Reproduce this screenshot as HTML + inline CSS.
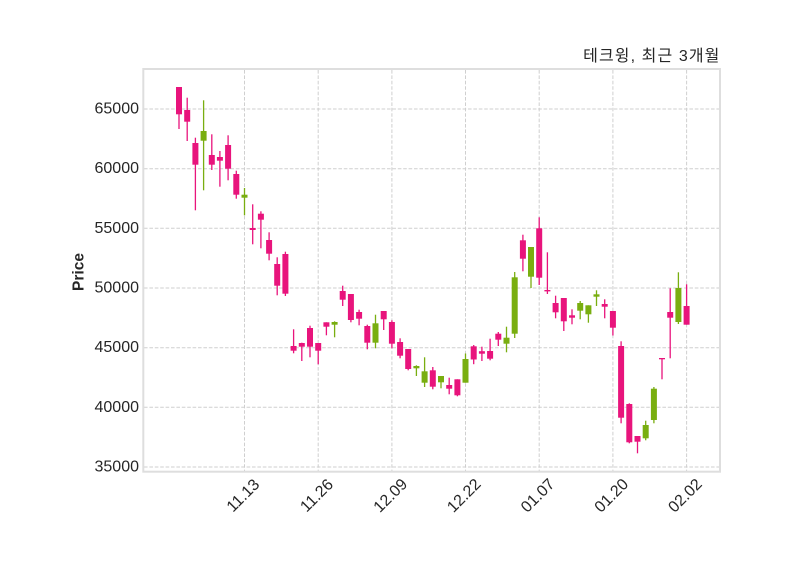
<!DOCTYPE html>
<html>
<head>
<meta charset="utf-8">
<style>
  html, body { margin: 0; padding: 0; background: #ffffff; }
  svg { display: block; }
  text { font-family: "Liberation Sans", "Noto Sans CJK KR", sans-serif; fill: #262626; }
</style>
</head>
<body>
<svg width="800" height="575" viewBox="0 0 800 575" xmlns="http://www.w3.org/2000/svg">
  <rect x="0" y="0" width="800" height="575" fill="#ffffff"/>

  <g stroke="#cfcfcf" stroke-width="1" stroke-dasharray="3.6 1.8" fill="none">
    <line x1="144" y1="109" x2="719" y2="109"/>
    <line x1="144" y1="168.7" x2="719" y2="168.7"/>
    <line x1="144" y1="228.3" x2="719" y2="228.3"/>
    <line x1="144" y1="288" x2="719" y2="288"/>
    <line x1="144" y1="347.7" x2="719" y2="347.7"/>
    <line x1="144" y1="407.3" x2="719" y2="407.3"/>
    <line x1="144" y1="467" x2="719" y2="467"/>
    <line x1="244.5" y1="70" x2="244.5" y2="471"/>
    <line x1="318.2" y1="70" x2="318.2" y2="471"/>
    <line x1="391.9" y1="70" x2="391.9" y2="471"/>
    <line x1="465.5" y1="70" x2="465.5" y2="471"/>
    <line x1="539.2" y1="70" x2="539.2" y2="471"/>
    <line x1="612.9" y1="70" x2="612.9" y2="471"/>
    <line x1="686.6" y1="70" x2="686.6" y2="471"/>
  </g>

  <rect x="143.3" y="69" width="576.7" height="402.7" fill="none" stroke="#dedede" stroke-width="2"/>

  <g stroke="#e8147c" stroke-width="1.3" fill="#e8147c">
    <line x1="179" y1="87" x2="179" y2="129"/><rect x="176" y="87" width="6" height="27.3" stroke="none"/>
    <line x1="187.2" y1="97.7" x2="187.2" y2="141"/><rect x="184.2" y="110" width="6" height="11.7" stroke="none"/>
    <line x1="195.4" y1="137.7" x2="195.4" y2="210.3"/><rect x="192.4" y="143" width="6" height="21.7" stroke="none"/>
    <line x1="211.8" y1="134.3" x2="211.8" y2="170"/><rect x="208.8" y="155" width="6" height="9.7" stroke="none"/>
    <line x1="219.9" y1="151" x2="219.9" y2="186.7"/><rect x="216.9" y="157" width="6" height="3.7" stroke="none"/>
    <line x1="228.1" y1="135.3" x2="228.1" y2="180.3"/><rect x="225.1" y="145" width="6" height="23.7" stroke="none"/>
    <line x1="236.3" y1="170.7" x2="236.3" y2="198.7"/><rect x="233.3" y="174" width="6" height="20.7" stroke="none"/>
    <line x1="252.7" y1="204.3" x2="252.7" y2="244.3"/><rect x="249.7" y="228" width="6" height="2" stroke="none"/>
    <line x1="260.9" y1="211.3" x2="260.9" y2="248.3"/><rect x="257.9" y="213.7" width="6" height="6" stroke="none"/>
    <line x1="269.1" y1="232.3" x2="269.1" y2="260.3"/><rect x="266.1" y="240" width="6" height="13.7" stroke="none"/>
    <line x1="277.2" y1="257.3" x2="277.2" y2="295.3"/><rect x="274.2" y="264" width="6" height="21.7" stroke="none"/>
    <line x1="285.4" y1="251.7" x2="285.4" y2="296"/><rect x="282.4" y="254" width="6" height="39.7" stroke="none"/>
    <line x1="293.6" y1="329.3" x2="293.6" y2="353.3"/><rect x="290.6" y="346" width="6" height="4.7" stroke="none"/>
    <line x1="301.8" y1="342.7" x2="301.8" y2="361"/><rect x="298.8" y="343" width="6" height="3.7" stroke="none"/>
    <line x1="310" y1="325.7" x2="310" y2="357.3"/><rect x="307" y="328" width="6" height="18.7" stroke="none"/>
    <line x1="318.2" y1="343" x2="318.2" y2="364.3"/><rect x="315.2" y="343" width="6" height="7.7" stroke="none"/>
    <line x1="326.4" y1="322.3" x2="326.4" y2="335.3"/><rect x="323.4" y="322.3" width="6" height="4.4" stroke="none"/>
    <line x1="342.7" y1="285.7" x2="342.7" y2="306"/><rect x="339.7" y="291" width="6" height="8.7" stroke="none"/>
    <line x1="350.9" y1="294" x2="350.9" y2="322.3"/><rect x="347.9" y="294" width="6" height="26" stroke="none"/>
    <line x1="359.1" y1="309.7" x2="359.1" y2="325.3"/><rect x="356.1" y="312" width="6" height="6.7" stroke="none"/>
    <line x1="367.3" y1="324.7" x2="367.3" y2="349.3"/><rect x="364.3" y="326" width="6" height="16.7" stroke="none"/>
    <line x1="383.7" y1="311" x2="383.7" y2="330"/><rect x="380.7" y="311" width="6" height="8.3" stroke="none"/>
    <line x1="391.9" y1="320.3" x2="391.9" y2="348.3"/><rect x="388.9" y="322" width="6" height="21.7" stroke="none"/>
    <line x1="400.1" y1="338.3" x2="400.1" y2="358.3"/><rect x="397.1" y="342" width="6" height="13.7" stroke="none"/>
    <line x1="408.2" y1="349" x2="408.2" y2="370.3"/><rect x="405.2" y="349" width="6" height="20" stroke="none"/>
    <line x1="432.8" y1="367" x2="432.8" y2="389.3"/><rect x="429.8" y="370.3" width="6" height="16.4" stroke="none"/>
    <line x1="449.2" y1="377.7" x2="449.2" y2="394.3"/><rect x="446.2" y="385" width="6" height="3.7" stroke="none"/>
    <line x1="457.4" y1="379.3" x2="457.4" y2="396.3"/><rect x="454.4" y="379.3" width="6" height="16" stroke="none"/>
    <line x1="473.7" y1="345" x2="473.7" y2="364.2"/><rect x="470.7" y="346.3" width="6" height="13.2" stroke="none"/>
    <line x1="481.9" y1="346.7" x2="481.9" y2="361"/><rect x="478.9" y="351.2" width="6" height="2.5" stroke="none"/>
    <line x1="490.1" y1="338.7" x2="490.1" y2="360.3"/><rect x="487.1" y="351" width="6" height="7.7" stroke="none"/>
    <line x1="498.3" y1="332" x2="498.3" y2="346"/><rect x="495.3" y="333.7" width="6" height="6" stroke="none"/>
    <line x1="522.9" y1="234.7" x2="522.9" y2="271.3"/><rect x="519.9" y="240.3" width="6" height="18.4" stroke="none"/>
    <line x1="539.2" y1="217.3" x2="539.2" y2="285"/><rect x="536.2" y="228.3" width="6" height="49.4" stroke="none"/>
    <line x1="547.4" y1="252.3" x2="547.4" y2="294"/><rect x="544.4" y="290" width="6" height="1.4" stroke="none"/>
    <line x1="555.6" y1="295.7" x2="555.6" y2="318.3"/><rect x="552.6" y="303" width="6" height="9.3" stroke="none"/>
    <line x1="563.8" y1="298" x2="563.8" y2="331"/><rect x="560.8" y="298" width="6" height="23.3" stroke="none"/>
    <line x1="572" y1="309.3" x2="572" y2="324.3"/><rect x="569" y="315.3" width="6" height="2.4" stroke="none"/>
    <line x1="604.7" y1="299.3" x2="604.7" y2="318.3"/><rect x="601.7" y="304" width="6" height="2.7" stroke="none"/>
    <line x1="612.9" y1="311" x2="612.9" y2="335.5"/><rect x="609.9" y="311" width="6" height="16.7" stroke="none"/>
    <line x1="621.1" y1="341.3" x2="621.1" y2="423.3"/><rect x="618.1" y="346" width="6" height="71.7" stroke="none"/>
    <line x1="629.3" y1="403.3" x2="629.3" y2="443.3"/><rect x="626.3" y="404" width="6" height="38.3" stroke="none"/>
    <line x1="637.5" y1="436" x2="637.5" y2="453.3"/><rect x="634.5" y="436" width="6" height="5.7" stroke="none"/>
    <line x1="662" y1="358" x2="662" y2="379.3"/><rect x="659" y="358" width="6" height="1.3" stroke="none"/>
    <line x1="670.2" y1="288.3" x2="670.2" y2="358.3"/><rect x="667.2" y="312" width="6" height="5.7" stroke="none"/>
    <line x1="686.6" y1="284.3" x2="686.6" y2="324.7"/><rect x="683.6" y="306" width="6" height="18.7" stroke="none"/>
  </g>

  <g stroke="#79ae10" stroke-width="1.3" fill="#79ae10">
    <line x1="203.6" y1="100.3" x2="203.6" y2="190.3"/><rect x="200.6" y="131" width="6" height="9.7" stroke="none"/>
    <line x1="244.5" y1="188" x2="244.5" y2="215.3"/><rect x="241.5" y="194.7" width="6" height="3" stroke="none"/>
    <line x1="334.6" y1="321.3" x2="334.6" y2="337.3"/><rect x="331.6" y="322" width="6" height="2.7" stroke="none"/>
    <line x1="375.5" y1="314.7" x2="375.5" y2="348.3"/><rect x="372.5" y="323.3" width="6" height="19.4" stroke="none"/>
    <line x1="416.4" y1="365.3" x2="416.4" y2="376"/><rect x="413.4" y="366" width="6" height="2.3" stroke="none"/>
    <line x1="424.6" y1="357.3" x2="424.6" y2="387"/><rect x="421.6" y="371.3" width="6" height="11.4" stroke="none"/>
    <line x1="441" y1="376" x2="441" y2="388.3"/><rect x="438" y="376" width="6" height="6.3" stroke="none"/>
    <line x1="465.5" y1="353.5" x2="465.5" y2="382.7"/><rect x="462.5" y="359" width="6" height="23.7" stroke="none"/>
    <line x1="506.5" y1="326.7" x2="506.5" y2="352.3"/><rect x="503.5" y="337.7" width="6" height="6" stroke="none"/>
    <line x1="514.7" y1="272" x2="514.7" y2="338"/><rect x="511.7" y="277.3" width="6" height="56.4" stroke="none"/>
    <line x1="531" y1="247" x2="531" y2="288"/><rect x="528" y="247" width="6" height="29.7" stroke="none"/>
    <line x1="580.2" y1="301" x2="580.2" y2="319.3"/><rect x="577.2" y="303" width="6" height="7.7" stroke="none"/>
    <line x1="588.4" y1="305.3" x2="588.4" y2="322.7"/><rect x="585.4" y="305.3" width="6" height="9" stroke="none"/>
    <line x1="596.5" y1="290.3" x2="596.5" y2="306"/><rect x="593.5" y="294.3" width="6" height="2.4" stroke="none"/>
    <line x1="645.7" y1="420.7" x2="645.7" y2="440.3"/><rect x="642.7" y="425" width="6" height="13.3" stroke="none"/>
    <line x1="653.9" y1="387" x2="653.9" y2="423.3"/><rect x="650.9" y="388.7" width="6" height="31.3" stroke="none"/>
    <line x1="678.4" y1="272.3" x2="678.4" y2="324"/><rect x="675.4" y="288" width="6" height="34" stroke="none"/>
  </g>

  <g font-size="16" text-anchor="end" dominant-baseline="central">
    <text x="139" y="109">65000</text>
    <text x="139" y="168.7">60000</text>
    <text x="139" y="228.3">55000</text>
    <text x="139" y="288">50000</text>
    <text x="139" y="347.7">45000</text>
    <text x="139" y="407.3">40000</text>
    <text x="139" y="467">35000</text>
  </g>

  <g font-size="16" text-anchor="middle" dominant-baseline="central">
    <text transform="translate(243.5,496) rotate(-45)">11.13</text>
    <text transform="translate(317.2,496) rotate(-45)">11.26</text>
    <text transform="translate(390.9,496) rotate(-45)">12.09</text>
    <text transform="translate(464.5,496) rotate(-45)">12.22</text>
    <text transform="translate(538.2,496) rotate(-45)">01.07</text>
    <text transform="translate(611.9,496) rotate(-45)">01.20</text>
    <text transform="translate(685.6,496) rotate(-45)">02.02</text>
  </g>

  <text transform="translate(79,272) rotate(-90)" font-size="15.5" font-weight="bold" text-anchor="middle" dominant-baseline="central">Price</text>

  <text x="720.5" y="61" font-size="16" letter-spacing="1.1" text-anchor="end">테크윙, 최근 3개월</text>
</svg>
</body>
</html>
